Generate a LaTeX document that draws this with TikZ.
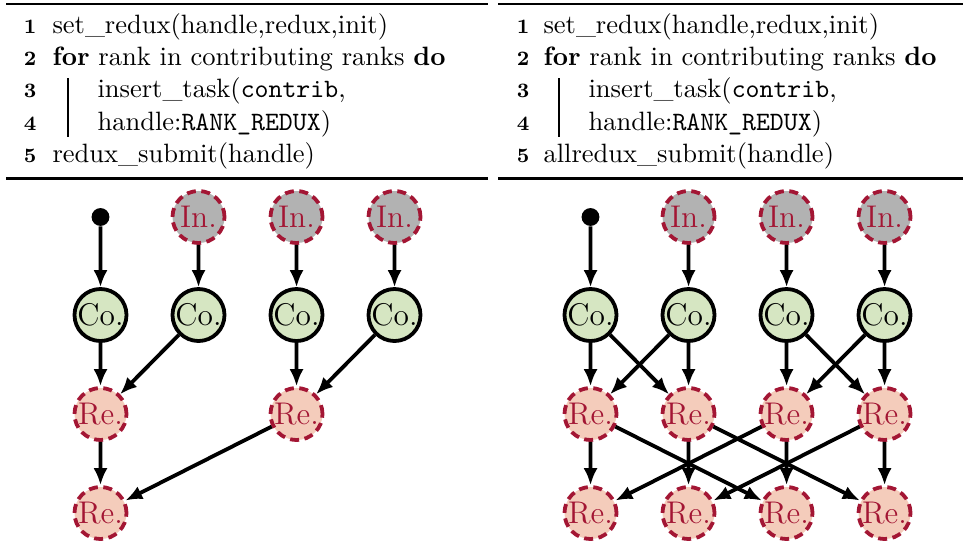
\documentclass[tikz,border=0pt]{standalone}
\usetikzlibrary{arrows.meta}
\definecolor{reduxred}{RGB}{163,22,52}
\definecolor{refill}{RGB}{244,204,187}
\definecolor{cofill}{RGB}{214,230,194}
\definecolor{infill}{RGB}{178,178,178}
\begin{document}
\begin{tikzpicture}[scale=2.55, x=0.392157pt, y=-0.392157pt,
  every node/.append style={transform shape},
  tnode/.style={circle, inner sep=0pt, minimum size=20.4pt, line width=3.8pt, outer sep=0.7pt, font=\fontsize{12.3}{15}\selectfont},
  conode/.style={tnode, draw=black, fill=cofill},
  renode/.style={tnode, draw=reduxred, fill=refill, text=reduxred, dash pattern=on 9pt off 5.5pt},
  innode/.style={tnode, draw=reduxred, fill=infill, text=reduxred, dash pattern=on 9pt off 5.5pt},
  dotnode/.style={circle, fill=black, inner sep=0pt, minimum size=7pt},
  flow/.style={line width=3.8pt, -{Latex[length=17pt,width=14pt]}},
  alg/.style={anchor=base west, inner sep=0pt, font=\fontsize{10.4}{12}\selectfont},
  lnum/.style={anchor=base east, inner sep=0pt, font=\footnotesize\bfseries},
  toprule/.style={line width=2pt},
  botrule/.style={line width=2.8pt},
  loopbar/.style={line width=1.6pt}]
\useasboundingbox (0,0) rectangle (968,545);

% ---------- left algorithm ----------
\coordinate (LtA) at (6,3.7);   \coordinate (LtB) at (488,3.7);
\coordinate (LbA) at (6,178.3); \coordinate (LbB) at (488,178.3);
\draw[toprule] (LtA) -- (LtB);
\draw[botrule] (LbA) -- (LbB);
\node[lnum] (Ln1) at (37,33.3) {1};
\node[alg]  (Lt1) at (52,33.3) {set\_redux(handle,redux,init)};
\node[lnum] (Ln2) at (37,65.6) {2};
\node[alg]  (Lt2) at (52,65.6) {\textbf{for} rank in contributing ranks \textbf{do}};
\node[lnum] (Ln3) at (37,97.9) {3};
\node[alg]  (Lt3) at (97,97.9) {insert\_task(\texttt{contrib},};
\node[lnum] (Ln4) at (37,130.2) {4};
\node[alg]  (Lt4) at (97,130.2) {handle:\texttt{RANK\_REDUX})};
\node[lnum] (Ln5) at (37,162.5) {5};
\node[alg]  (Lt5) at (52,162.5) {redux\_submit(handle)};
\coordinate (LvA) at (68,78); \coordinate (LvB) at (68,137);
\draw[loopbar] (LvA) -- (LvB);

% ---------- right algorithm ----------
\coordinate (RtA) at (498,3.7);   \coordinate (RtB) at (963,3.7);
\coordinate (RbA) at (498,178.3); \coordinate (RbB) at (963,178.3);
\draw[toprule] (RtA) -- (RtB);
\draw[botrule] (RbA) -- (RbB);
\node[lnum] (Rn1) at (530,33.3) {1};
\node[alg]  (Rt1) at (543,33.3) {set\_redux(handle,redux,init)};
\node[lnum] (Rn2) at (530,65.6) {2};
\node[alg]  (Rt2) at (543,65.6) {\textbf{for} rank in contributing ranks \textbf{do}};
\node[lnum] (Rn3) at (530,97.9) {3};
\node[alg]  (Rt3) at (588,97.9) {insert\_task(\texttt{contrib},};
\node[lnum] (Rn4) at (530,130.2) {4};
\node[alg]  (Rt4) at (588,130.2) {handle:\texttt{RANK\_REDUX})};
\node[lnum] (Rn5) at (530,162.5) {5};
\node[alg]  (Rt5) at (543,162.5) {allredux\_submit(handle)};
\coordinate (RvA) at (559,78); \coordinate (RvB) at (559,137);
\draw[loopbar] (RvA) -- (RvB);

% ---------- left graph ----------
\node[dotnode] (Ld)  at (100.5,217) {};
\node[innode]  (Li2) at (198.5,217) {In.};
\node[innode]  (Li3) at (296.5,217) {In.};
\node[innode]  (Li4) at (394.5,217) {In.};
\node[conode]  (Lc1) at (100.5,315) {Co.};
\node[conode]  (Lc2) at (198.5,315) {Co.};
\node[conode]  (Lc3) at (296.5,315) {Co.};
\node[conode]  (Lc4) at (394.5,315) {Co.};
\node[renode]  (Lr1) at (100.5,414) {Re.};
\node[renode]  (Lr3) at (296.5,414) {Re.};
\node[renode]  (Lb1) at (100.5,513) {Re.};
\draw[flow] (Ld)  -- (Lc1);
\draw[flow] (Li2) -- (Lc2);
\draw[flow] (Li3) -- (Lc3);
\draw[flow] (Li4) -- (Lc4);
\draw[flow] (Lc1) -- (Lr1);
\draw[flow] (Lc2) -- (Lr1);
\draw[flow] (Lc3) -- (Lr3);
\draw[flow] (Lc4) -- (Lr3);
\draw[flow] (Lr1) -- (Lb1);
\draw[flow] (Lr3) -- (Lb1);

% ---------- right graph ----------
\node[dotnode] (Rd)  at (590.5,217) {};
\node[innode]  (Ri2) at (688.5,217) {In.};
\node[innode]  (Ri3) at (786.5,217) {In.};
\node[innode]  (Ri4) at (884.5,217) {In.};
\node[conode]  (Rc1) at (590.5,315) {Co.};
\node[conode]  (Rc2) at (688.5,315) {Co.};
\node[conode]  (Rc3) at (786.5,315) {Co.};
\node[conode]  (Rc4) at (884.5,315) {Co.};
\node[renode]  (Rr1) at (590.5,414) {Re.};
\node[renode]  (Rr2) at (688.5,414) {Re.};
\node[renode]  (Rr3) at (786.5,414) {Re.};
\node[renode]  (Rr4) at (884.5,414) {Re.};
\node[renode]  (Rb1) at (590.5,513) {Re.};
\node[renode]  (Rb2) at (688.5,513) {Re.};
\node[renode]  (Rb3) at (786.5,513) {Re.};
\node[renode]  (Rb4) at (884.5,513) {Re.};
\draw[flow] (Rd)  -- (Rc1);
\draw[flow] (Ri2) -- (Rc2);
\draw[flow] (Ri3) -- (Rc3);
\draw[flow] (Ri4) -- (Rc4);
\draw[flow] (Rc1) -- (Rr1);
\draw[flow] (Rc1) -- (Rr2);
\draw[flow] (Rc2) -- (Rr1);
\draw[flow] (Rc2) -- (Rr2);
\draw[flow] (Rc3) -- (Rr3);
\draw[flow] (Rc3) -- (Rr4);
\draw[flow] (Rc4) -- (Rr3);
\draw[flow] (Rc4) -- (Rr4);
\draw[flow] (Rr1) -- (Rb1);
\draw[flow] (Rr1) -- (Rb3);
\draw[flow] (Rr2) -- (Rb2);
\draw[flow] (Rr2) -- (Rb4);
\draw[flow] (Rr3) -- (Rb3);
\draw[flow] (Rr3) -- (Rb1);
\draw[flow] (Rr4) -- (Rb4);
\draw[flow] (Rr4) -- (Rb2);
\end{tikzpicture}
\end{document}
